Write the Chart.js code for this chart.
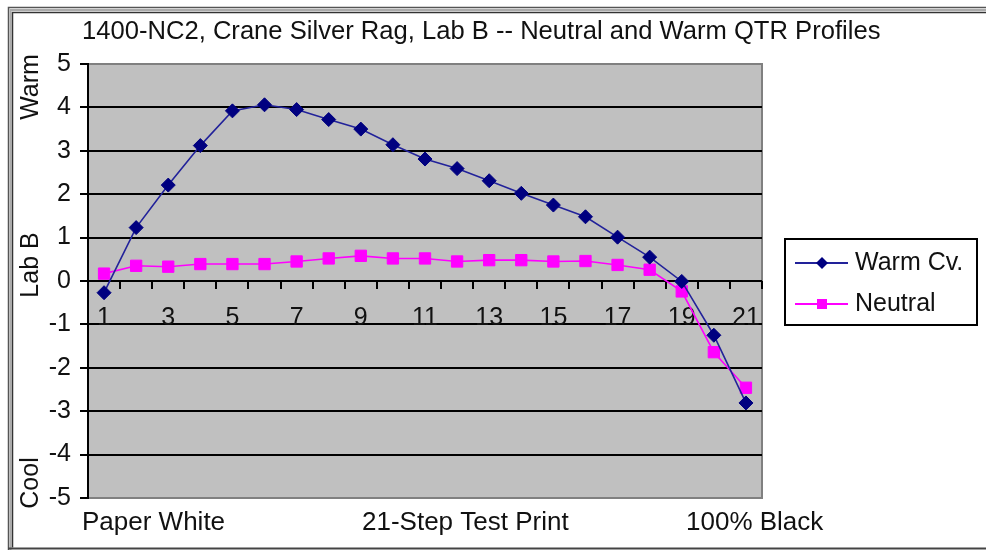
<!DOCTYPE html>
<html>
<head>
<meta charset="utf-8">
<script src="https://cdn.jsdelivr.net/npm/chart.js@4.4.1/dist/chart.umd.min.js"></script>
<style>
  html, body { margin: 0; padding: 0; background: #fff; }
  canvas { display: block; }
</style>
</head>
<body>
<canvas id="c" width="986" height="550"></canvas>
<script>
// ---- data ----
const steps = ['1','2','3','4','5','6','7','8','9','10','11','12','13','14','15','16','17','18','19','20','21'];
const warmCv = [-0.27, 1.23, 2.21, 3.12, 3.92, 4.06, 3.95, 3.72, 3.50, 3.14, 2.81, 2.59, 2.31, 2.02, 1.75, 1.48, 1.01, 0.55, -0.01, -1.25, -2.81];
const neutral = [0.17, 0.35, 0.33, 0.39, 0.39, 0.39, 0.45, 0.52, 0.58, 0.52, 0.52, 0.45, 0.48, 0.48, 0.45, 0.46, 0.37, 0.26, -0.24, -1.64, -2.46];
const seriesNames = ['Warm Cv.', 'Neutral'];
const chartTitle = '1400-NC2, Crane Silver Rag, Lab B -- Neutral and Warm QTR Profiles';
const yTitles = ['Warm', 'Lab B', 'Cool'];
const xTitles = ['Paper White', '21-Step Test Print', '100% Black'];

const FONT = '"Liberation Sans", Arial, sans-serif';
const TXT = '#111';
const WARM_LINE = '#22229a';
const WARM_MARK = '#000080';
const NEU = '#ff00ff';

const decor = {
  id: 'decor',
  beforeDraw(chart) {
    const ctx = chart.ctx, a = chart.chartArea;
    ctx.save();
    ctx.fillStyle = '#fff';
    ctx.fillRect(0, 0, chart.width, chart.height);
    // outer frame
    ctx.strokeStyle = '#555'; ctx.lineWidth = 1.5;
    ctx.beginPath();
    ctx.moveTo(8.5, chart.height); ctx.lineTo(8.5, 7.5); ctx.lineTo(chart.width, 7.5);
    ctx.stroke();
    ctx.strokeStyle = '#aaa'; ctx.lineWidth = 2;
    ctx.beginPath();
    ctx.moveTo(10.5, chart.height); ctx.lineTo(10.5, 10); ctx.lineTo(chart.width, 10);
    ctx.stroke();
    ctx.strokeStyle = '#333'; ctx.lineWidth = 1.5;
    ctx.beginPath();
    ctx.moveTo(12.5, 547.5); ctx.lineTo(12.5, 12.5); ctx.lineTo(chart.width, 12.5);
    ctx.stroke();
    ctx.strokeStyle = '#444'; ctx.lineWidth = 2;
    ctx.beginPath(); ctx.moveTo(8, 548.5); ctx.lineTo(chart.width, 548.5); ctx.stroke();
    // plot background
    ctx.fillStyle = '#c0c0c0';
    ctx.fillRect(a.left, a.top, a.right - a.left, a.bottom - a.top);
    ctx.strokeStyle = '#808080'; ctx.lineWidth = 2;
    ctx.strokeRect(a.left, a.top, a.right - a.left, a.bottom - a.top);
    ctx.restore();
  },
  afterDraw(chart) {
    const ctx = chart.ctx;
    ctx.save();
    ctx.fillStyle = TXT;
    ctx.font = '25.6px ' + FONT;
    ctx.textBaseline = 'middle';
    ctx.textAlign = 'left';
    ctx.fillText(chartTitle, 82, 32);
    // x titles
    ctx.font = '26px ' + FONT;
    ctx.fillText(xTitles[0], 82, 523);
    ctx.fillText(xTitles[1], 362, 523);
    ctx.fillText(xTitles[2], 686, 523);
    // y titles (rotated)
    ctx.font = '25px ' + FONT;
    const yt = [[yTitles[0], 87], [yTitles[1], 265], [yTitles[2], 483]];
    yt.forEach(([t, cy]) => {
      ctx.save();
      ctx.translate(31, cy);
      ctx.rotate(-Math.PI / 2);
      ctx.textAlign = 'center';
      ctx.fillText(t, 0, 0);
      ctx.restore();
    });
    // legend
    ctx.strokeStyle = '#000'; ctx.lineWidth = 2;
    ctx.strokeRect(785, 239, 192, 86);
    const rows = [
      {name: seriesNames[0], y: 263, line: WARM_LINE, mark: WARM_MARK, shape: 'diamond'},
      {name: seriesNames[1], y: 304, line: NEU, mark: NEU, shape: 'square'}
    ];
    rows.forEach(r => {
      ctx.strokeStyle = r.line; ctx.lineWidth = 2;
      ctx.beginPath(); ctx.moveTo(795, r.y); ctx.lineTo(848, r.y); ctx.stroke();
      ctx.fillStyle = r.mark;
      if (r.shape === 'diamond') {
        ctx.beginPath();
        ctx.moveTo(822, r.y - 6); ctx.lineTo(828, r.y); ctx.lineTo(822, r.y + 6); ctx.lineTo(816, r.y);
        ctx.closePath(); ctx.fill();
      } else {
        ctx.fillRect(817, r.y - 5, 10, 10);
      }
      ctx.fillStyle = TXT;
      ctx.textAlign = 'left';
      ctx.fillText(r.name, 855, r.y);
    });
    ctx.restore();
  }
};

new Chart(document.getElementById('c'), {
  type: 'line',
  data: {
    labels: steps,
    datasets: [
      {
        label: seriesNames[0], data: warmCv,
        borderColor: WARM_LINE, borderWidth: 1.6,
        pointStyle: 'rectRot', pointRadius: 7, pointHoverRadius: 7,
        pointBackgroundColor: WARM_MARK, pointBorderColor: WARM_MARK, pointBorderWidth: 1,
        tension: 0
      },
      {
        label: seriesNames[1], data: neutral,
        borderColor: NEU, borderWidth: 1.6,
        pointStyle: 'rect', pointRadius: 8, pointHoverRadius: 8,
        pointBackgroundColor: NEU, pointBorderColor: NEU, pointBorderWidth: 1,
        tension: 0
      }
    ]
  },
  options: {
    responsive: false,
    animation: false,
    events: [],
    layout: { padding: { top: 64, right: 224, bottom: 52, left: 0 } },
    plugins: { legend: { display: false }, title: { display: false }, tooltip: { enabled: false } },
    scales: {
      x: {
        type: 'category',
        position: { y: 0 },
        offset: true,
        grid: { offset: true, drawOnChartArea: false, drawTicks: true, tickLength: 8, color: '#000', lineWidth: 2 },
        border: { display: false },
        ticks: {
          autoSkip: false, maxRotation: 0, minRotation: 0, padding: 14,
          color: TXT, font: { family: FONT, size: 25 },
          callback: function(v, i) { return i % 2 === 0 ? this.getLabelForValue(v) : ''; }
        }
      },
      y: {
        min: -5, max: 5,
        afterFit(s) { s.width = 88; },
        grid: {
          color: (c) => (c.tick && (c.tick.value === 5 || c.tick.value === -5)) ? '#808080' : '#000',
          tickColor: '#000', lineWidth: 2, tickLength: 8
        },
        border: { display: true, color: '#000', width: 2 },
        ticks: { stepSize: 1, padding: 9, color: TXT, font: { family: FONT, size: 25 } }
      }
    }
  },
  plugins: [decor]
});
</script>
</body>
</html>
